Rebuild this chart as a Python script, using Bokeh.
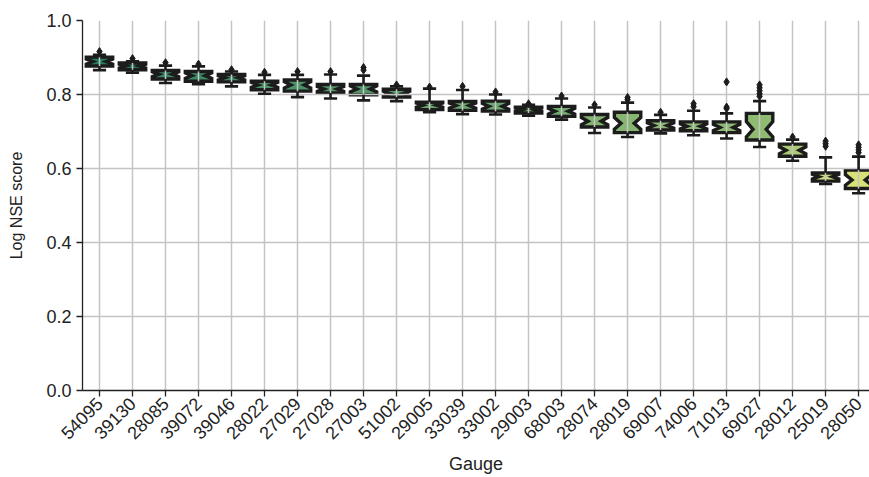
import math
import colorsys
from bokeh.plotting import figure
from bokeh.models import Range1d, FixedTicker, NumeralTickFormatter
from bokeh.embed import file_html
from bokeh.resources import INLINE

gauges = ["54095", "39130", "28085", "39072", "39046", "28022", "27029", "27028",
          "27003", "51002", "29005", "33039", "33002", "29003", "68003", "28074",
          "28019", "69007", "74006", "71013", "69027", "28012", "25019", "28050"]

medians = [0.889, 0.877, 0.855, 0.851, 0.845, 0.826, 0.826, 0.815, 0.815, 0.803,
           0.771, 0.770, 0.768, 0.759, 0.755, 0.728, 0.722, 0.716, 0.714, 0.711,
           0.706, 0.649, 0.578, 0.569]
q1 = [0.877, 0.867, 0.842, 0.836, 0.834, 0.813, 0.809, 0.804, 0.799, 0.793,
      0.759, 0.757, 0.755, 0.750, 0.741, 0.712, 0.697, 0.704, 0.702, 0.697,
      0.677, 0.633, 0.566, 0.546]
q3 = [0.901, 0.885, 0.865, 0.862, 0.854, 0.836, 0.839, 0.827, 0.827, 0.814,
      0.779, 0.781, 0.782, 0.766, 0.768, 0.746, 0.752, 0.729, 0.726, 0.726,
      0.749, 0.666, 0.588, 0.596]
whisk_lo = [0.866, 0.859, 0.831, 0.828, 0.822, 0.802, 0.793, 0.789, 0.784, 0.782,
            0.752, 0.747, 0.746, 0.743, 0.732, 0.696, 0.685, 0.695, 0.690, 0.681,
            0.658, 0.621, 0.558, 0.533]
whisk_hi = [0.907, 0.890, 0.878, 0.876, 0.862, 0.853, 0.853, 0.854, 0.851, 0.822,
            0.816, 0.812, 0.800, 0.772, 0.789, 0.765, 0.778, 0.745, 0.756, 0.749,
            0.782, 0.678, 0.630, 0.632]
outliers = [[0.916], [0.897], [0.886], [0.882], [0.867], [0.860], [0.862], [0.862],
            [0.866, 0.873], [0.826], [0.820], [0.822], [0.807], [0.775], [0.796],
            [0.772], [0.786, 0.792], [0.752], [0.767, 0.775], [0.762, 0.766, 0.834],
            [0.795, 0.802, 0.810, 0.818, 0.826], [0.685], [0.660, 0.667, 0.674],
            [0.643, 0.650, 0.657, 0.664]]
n_runs = 30
y_ticks = [0.0, 0.2, 0.4, 0.6, 0.8, 1.0]


def summer_color(m, hi=0.92, lo=0.53, sat=0.75):
    t = min(max((hi - m) / (hi - lo), 0.0), 1.0)
    r, g, b = t, 0.5 + 0.5 * t, 0.4
    h, l, s = colorsys.rgb_to_hls(r, g, b)
    r, g, b = colorsys.hls_to_rgb(h, l, s * sat)
    return "#%02x%02x%02x" % (int(r * 255 + 0.5), int(g * 255 + 0.5), int(b * 255 + 0.5))


xpos = list(range(len(gauges)))
half = 0.4
xs, ys, fills = [], [], []
for i, x in enumerate(xpos):
    iqr = q3[i] - q1[i]
    ci = 1.57 * iqr / math.sqrt(n_runs)
    m = medians[i]
    xs.append([x - half, x + half, x + half, x + half * 0.5, x + half, x + half,
               x - half, x - half, x - half * 0.5, x - half])
    ys.append([q1[i], q1[i], m - ci, m, m + ci, q3[i], q3[i], m + ci, m, m - ci])
    fills.append(summer_color(m))

dark = "#1c1c1c"

p = figure(width=869, height=477, output_backend="svg", toolbar_location=None,
           x_range=Range1d(-0.515, 23.33), y_range=Range1d(0.0, 1.0),
           min_border_left=82, min_border_right=0, min_border_top=20,
           min_border_bottom=86)
p.outline_line_color = None
p.background_fill_color = "white"

# boxes below the grid
p.patches(xs, ys, fill_color=fills, line_color=dark, line_width=3.4,
          line_join="miter", level="image")

# whiskers
p.segment(xpos, q1, xpos, whisk_lo, line_color=dark, line_width=2.6)
p.segment(xpos, q3, xpos, whisk_hi, line_color=dark, line_width=2.6)
cap = 0.2
p.segment([x - cap for x in xpos], whisk_lo, [x + cap for x in xpos], whisk_lo,
          line_color=dark, line_width=2.6)
p.segment([x - cap for x in xpos], whisk_hi, [x + cap for x in xpos], whisk_hi,
          line_color=dark, line_width=2.6)

fx, fy = [], []
for i, outs in enumerate(outliers):
    for v in outs:
        fx.append(xpos[i])
        fy.append(v)
p.scatter(fx, fy, marker="diamond", size=8, fill_color=dark, line_color=dark)

# axes
p.xaxis.ticker = FixedTicker(ticks=xpos)
p.xaxis.major_label_overrides = {i: g for i, g in enumerate(gauges)}
p.xaxis.major_label_orientation = math.pi / 4
p.yaxis.ticker = FixedTicker(ticks=y_ticks)
p.yaxis.formatter = NumeralTickFormatter(format="0.0")
p.xgrid.ticker = FixedTicker(ticks=xpos)
p.ygrid.ticker = FixedTicker(ticks=y_ticks)

for g in (p.xgrid, p.ygrid):
    g.grid_line_color = "#c4c4c4"
    g.grid_line_width = 1.5

for ax in (p.xaxis, p.yaxis):
    ax.axis_line_color = "#222222"
    ax.axis_line_width = 1.3
    ax.major_tick_line_color = "#222222"
    ax.major_tick_line_width = 1.3
    ax.major_tick_out = 6
    ax.major_tick_in = 0
    ax.minor_tick_line_color = None
    ax.major_label_text_font = "Liberation Sans"
    ax.major_label_text_font_size = "18px"
    ax.major_label_text_color = "#222222"
    ax.axis_label_text_font = "Liberation Sans"
    ax.axis_label_text_font_style = "normal"
    ax.axis_label_text_color = "#222222"

p.yaxis.axis_label = "Log NSE score"
p.yaxis.axis_label_text_font_size = "16px"
p.yaxis.axis_label_standoff = 18
p.yaxis.major_label_standoff = 5
p.xaxis.axis_label = "Gauge"
p.xaxis.axis_label_text_font_size = "18px"
p.xaxis.axis_label_standoff = 6
p.xaxis.major_label_standoff = 4

open("out.html", "w").write(file_html(p, INLINE))
